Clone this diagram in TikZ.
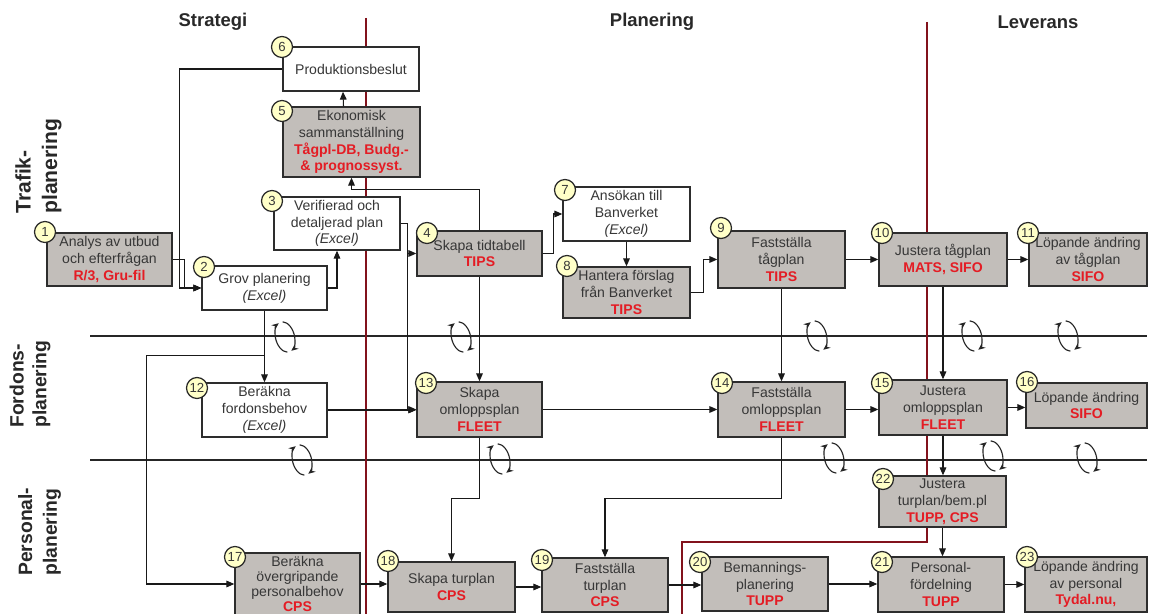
\documentclass[tikz,border=0pt]{standalone}
\usepackage{fontspec}
\setmainfont{Liberation Sans}
\usetikzlibrary{arrows.meta,calc}
\definecolor{boxgray}{RGB}{194,190,186}
\definecolor{txt}{RGB}{55,55,55}
\definecolor{tred}{RGB}{228,28,36}
\definecolor{rline}{RGB}{130,18,28}
\definecolor{numfill}{RGB}{255,255,200}
\definecolor{hdrc}{RGB}{40,40,40}
\newcommand\rt[1]{{\color{tred}\bfseries #1}}
\newcommand\mkbox[7]{%
  \pgfmathsetmacro\mkbw{(#5-#3)*0.02}%
  \pgfmathsetmacro\mkbh{(#6-#4)*0.02}%
  \node[#1, minimum width=\mkbw cm, minimum height=\mkbh cm] (#2) at ({(#3+#5)/2},{(#4+#6)/2}) {#7};}
\begin{document}
\begin{tikzpicture}[x=0.02cm,y=-0.02cm,
  box/.style={draw={rgb,255:red,45;green,45;blue,45}, line width=0.8pt, inner sep=0pt, align=center,
    font=\fontsize{8}{9.6}\selectfont, text=txt},
  gbox/.style={box, fill=boxgray},
  wbox/.style={box, fill=white},
  num/.style={circle, draw={rgb,255:red,40;green,40;blue,40}, line width=0.7pt, fill=numfill, minimum size=0.42cm,
    inner sep=0pt, font=\fontsize{7.5}{8}\selectfont, text=txt},
  arr/.style={draw=black!90, line width=0.6pt, -{Triangle[length=4.5pt,width=3.8pt]}},
  sepl/.style={draw=black!85, line width=0.7pt},
  redl/.style={draw=rline, line width=1.4pt},
  hdr/.style={font=\bfseries\fontsize{10.5}{12}\selectfont, text=hdrc, inner sep=0pt},
  lane/.style={rotate=90, anchor=west, align=left, inner sep=0pt, text=hdrc},
  cycl/.style={draw=black!85, line width=0.65pt, -{Stealth[length=4pt,width=3.4pt]}},
  cyc/.pic={
    \draw[cycl] (100:9.5 and 15.5) arc[start angle=100,end angle=255,x radius=9.5,y radius=15.5];
    \draw[cycl] (280:9.5 and 15.5) arc[start angle=280,end angle=435,x radius=9.5,y radius=15.5];
  }]
\useasboundingbox (0,0) rectangle (1150,614);
\clip (0,0) rectangle (1150,614);
\fill[white] (0,0) rectangle (1150,614);

% headers
\node[hdr] (hS) at (213,22) {Strategi};
\node[hdr] (hP) at (652,22) {Planering};
\node[hdr] (hL) at (1038,22) {Leverans};

% lane labels
\node[lane, font=\bfseries\fontsize{12}{15}\selectfont] (lT) at (38.5,214) {Trafik-\\planering};
\node[lane, font=\bfseries\fontsize{11}{13}\selectfont] (lF) at (30,428) {Fordons-\\planering};
\node[lane, font=\bfseries\fontsize{11}{14}\selectfont] (lP) at (39.5,576) {Personal-\\planering};

% lane separators
\draw[sepl] (90,336) -- (1147,336);
\draw[sepl] (90,460) -- (1147,460);

% red phase borders
\draw[redl] (366,18) -- (366,620);
\draw[redl] (927,22) -- (927,542) -- (682,542) -- (682,620);

% boxes
\mkbox{wbox}{b6}{283}{47}{419}{91}{Produktionsbeslut}
\mkbox{gbox}{b5}{283}{107}{420}{177}{Ekonomisk\\sammanställning\\\rt{Tågpl-DB, Budg.-}\\\rt{\& prognossyst.}}
\mkbox{wbox}{b3}{274}{197}{400}{250}{Verifierad och\\detaljerad plan\\\textit{(Excel)}}
\mkbox{gbox}{b1}{47}{233}{172}{286}{Analys av utbud\\och efterfrågan\\\rt{R/3, Gru-fil}}
\mkbox{wbox}{b2}{202}{266}{327}{310}{Grov planering\\\textit{(Excel)}}
\mkbox{gbox}{b4}{417}{231}{542}{276}{Skapa tidtabell\\\rt{TIPS}}
\mkbox{wbox}{b7}{563}{187}{690}{241}{Ansökan till\\Banverket\\\textit{(Excel)}}
\mkbox{gbox}{b8}{563}{267}{690}{318}{Hantera förslag\\från Banverket\\\rt{TIPS}}
\mkbox{gbox}{b9}{718}{231}{845}{288}{Fastställa\\tågplan\\\rt{TIPS}}
\mkbox{gbox}{b10}{879}{233}{1007}{286}{Justera tågplan\\\rt{MATS, SIFO}}
\mkbox{gbox}{b11}{1029}{233}{1147}{286}{Löpande ändring\\av tågplan\\\rt{SIFO}}
\mkbox{wbox}{b12}{202}{383}{327}{437}{Beräkna\\fordonsbehov\\\textit{(Excel)}}
\mkbox{gbox}{b13}{417}{382}{542}{437}{Skapa\\omloppsplan\\\rt{FLEET}}
\mkbox{gbox}{b14}{718}{382}{845}{437}{Fastställa\\omloppsplan\\\rt{FLEET}}
\mkbox{gbox}{b15}{879}{380}{1007}{435}{Justera\\omloppsplan\\\rt{FLEET}}
\mkbox{gbox}{b16}{1026}{383}{1147}{428}{Löpande ändring\\\rt{SIFO}}
\mkbox{gbox}{b22}{879}{476}{1006}{527}{Justera\\turplan/bem.pl\\\rt{TUPP, CPS}}
\mkbox{gbox,font=\fontsize{8}{8.4}\selectfont}{b17}{235}{553}{360}{615}{Beräkna\\övergripande\\personalbehov\\\rt{CPS}}
\mkbox{gbox}{b18}{388}{562}{515}{612}{Skapa turplan\\\rt{CPS}}
\mkbox{gbox}{b19}{542}{558}{668}{612}{Fastställa\\turplan\\\rt{CPS}}
\mkbox{gbox}{b20}{702}{557}{828}{611}{Bemannings-\\planering\\\rt{TUPP}}
\mkbox{gbox}{b21}{878}{557}{1004}{612}{Personal-\\fördelning\\\rt{TUPP}}
\mkbox{gbox}{b23}{1025}{557}{1147}{612}{Löpande ändring\\av personal\\\rt{Tydal.nu,}}

% connectors
\draw[arr] (b6.west) -| ($(b2.west)+(-22,0)$) -- (b2.west);
\draw[arr] (b1.east) -| ($(b2.west)+(-17,0)$) -- (b2.west);
\draw[arr] (b2.east) -| (b3.south);
\coordinate (j34) at ($(b4.west)+(-9,0)$);
\draw[arr] (b3.east) -| (j34) -- (b4.west);
\draw[arr] (j34) |- (b13.west);
\draw[arr] (b12.east) -- (b12.east -| b13.west);
\draw[arr] ($(b5.north)+(-8,0)$) -- ($(b6.south)+(-8,0)$);
\draw[arr] (b4.north) |- ($(b5.south)+(0,12)$) -- (b5.south);
\draw[arr] (b4.south) -- (b13.north);
\draw[arr] (b4.east) -- ++(11,0) |- (b7.west);
\draw[arr] (b7.south) -- (b8.north);
\draw[arr] (b8.east) -- ++(13,0) |- (b9.west);
\draw[arr] (b9.east) -- (b9.east -| b10.west);
\draw[arr] (b10.east) -- (b10.east -| b11.west);
\draw[arr] (b9.south) -- (b14.north);
\draw[arr] (b10.south) -- (b10.south |- b15.north);
\draw[arr] (b13.east) -- (b13.east -| b14.west);
\draw[arr] (b14.east) -- (b14.east -| b15.west);
\draw[arr] (b15.east) -- (b15.east -| b16.west);
\draw[arr] (b15.south) -- (b15.south |- b22.north);
\draw[arr] (b22.south) -- (b22.south |- b21.north);
\draw[arr] (b2.south) -- (b12.north);
\coordinate (j2) at ($(b2.south)+(0,45)$);
\draw[arr] (j2) -- ++(-118,0) |- (b17.west);
\draw[arr] (b17.east) -- (b17.east -| b18.west);
\draw[arr] (b13.south) -- ++(0,61) -| (b18.north);
\draw[arr] (b14.south) -- ++(0,61) -| (b19.north);
\draw[arr] (b18.east) -- (b18.east -| b19.west);
\draw[arr] (b19.east) -- (b19.east -| b20.west);
\draw[arr] (b20.east) -- (b20.east -| b21.west);
\draw[arr] (b21.east) -- (b21.east -| b23.west);

% number circles
\node[num] (c6) at (282,47) {6};
\node[num] (c5) at (282,111) {5};
\node[num] (c3) at (272,201) {3};
\node[num] (c1) at (45,232) {1};
\node[num] (c2) at (204,267) {2};
\node[num] (c4) at (427,233) {4};
\node[num] (c7) at (565,190) {7};
\node[num] (c8) at (567,266) {8};
\node[num] (c9) at (721,228) {9};
\node[num] (c10) at (882,233) {10};
\node[num] (c11) at (1028,233) {11};
\node[num] (c12) at (197,388) {12};
\node[num] (c13) at (426,383) {13};
\node[num] (c14) at (722,383) {14};
\node[num] (c15) at (882,383) {15};
\node[num] (c16) at (1027,382) {16};
\node[num] (c17) at (235,557) {17};
\node[num] (c18) at (388,561) {18};
\node[num] (c19) at (542,560) {19};
\node[num] (c20) at (700,562) {20};
\node[num] (c21) at (882,562) {21};
\node[num] (c22) at (883,479) {22};
\node[num] (c23) at (1027,557) {23};

% cycle symbols
\pic[rotate=15] at (285,337) {cyc};
\pic[rotate=15] at (461,337) {cyc};
\pic[rotate=15] at (817,336) {cyc};
\pic[rotate=15] at (972,336) {cyc};
\pic[rotate=15] at (1068,336) {cyc};
\pic[rotate=15] at (302,460) {cyc};
\pic[rotate=15] at (500,459) {cyc};
\pic[rotate=15] at (834,458) {cyc};
\pic[rotate=15] at (993,456) {cyc};
\pic[rotate=15] at (1087,458) {cyc};
\end{tikzpicture}
\end{document}
